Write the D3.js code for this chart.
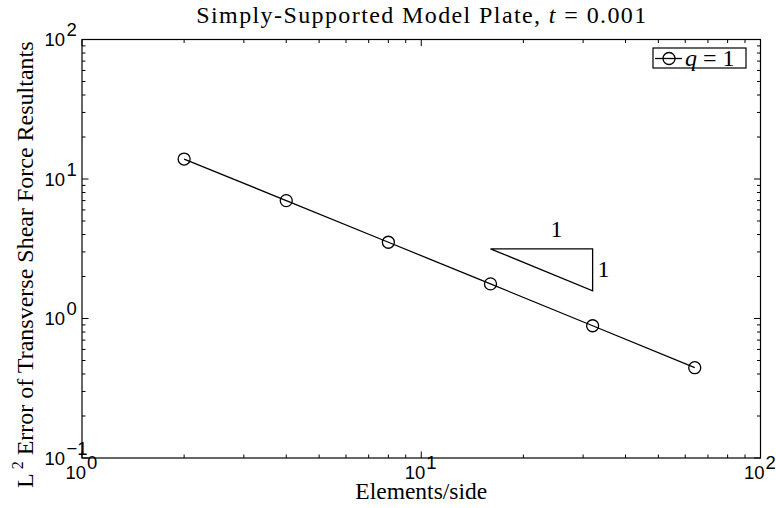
<!DOCTYPE html>
<html lang="en">
<head>
  <meta charset="UTF-8">
  <title>Simply-Supported Model Plate</title>
  <script src="https://d3js.org/d3.v7.min.js"></script>
  <style>
    body { margin: 0; background: #fff; }
    .serif { font-family: "Liberation Serif", "Times New Roman", serif; }
    .tick-label { font-family: "Liberation Sans", Arial, sans-serif; font-size: 18.5px; }
  </style>
</head>
<body>
  <div id="chart"></div>

  <script>
    // Data
    const elements = [2, 4, 8, 16, 32, 64];
    const errors = [13.9, 7.0, 3.52, 1.77, 0.887, 0.444];
    const xTicks = [1, 10, 100];
    const yTicks = [0.1, 1, 10, 100];
    const slopeTriangle = [[16, 3.16], [32, 3.16], [32, 1.58]];

    const W = 776, H = 508;
    const margin = { top: 39.5, right: 15.5, bottom: 50, left: 82 };
    const width = W - margin.left - margin.right;
    const height = H - margin.top - margin.bottom;

    const root = d3.select("#chart").append("svg")
      .attr("width", W).attr("height", H);
    const svg = root.append("g")
      .attr("transform", "translate(" + margin.left + "," + margin.top + ")");

    const x = d3.scaleLog().domain([1, 100]).range([0, width]);
    const y = d3.scaleLog().domain([0.1, 100]).range([height, 0]);

    // minor ticks (2..9 in each decade)
    const minorX = [], minorY = [];
    for (let d = 1; d < 100; d *= 10) for (let k = 2; k < 10; k++) minorX.push(d * k);
    for (let d = 0.1; d < 99; d *= 10) for (let k = 2; k < 10; k++) minorY.push(+(d * k).toPrecision(3));

    const ticks = svg.append("g").attr("stroke", "#000").attr("stroke-width", 1);
    minorX.forEach(v => {
      ticks.append("line").attr("x1", x(v)).attr("x2", x(v)).attr("y1", height).attr("y2", height - 3.5);
      ticks.append("line").attr("x1", x(v)).attr("x2", x(v)).attr("y1", 0).attr("y2", 3.5);
    });
    xTicks.forEach(v => {
      ticks.append("line").attr("x1", x(v)).attr("x2", x(v)).attr("y1", height).attr("y2", height - 6.5);
      ticks.append("line").attr("x1", x(v)).attr("x2", x(v)).attr("y1", 0).attr("y2", 6.5);
    });
    minorY.forEach(v => {
      ticks.append("line").attr("y1", y(v)).attr("y2", y(v)).attr("x1", 0).attr("x2", 3.5);
      ticks.append("line").attr("y1", y(v)).attr("y2", y(v)).attr("x1", width).attr("x2", width - 3.5);
    });
    yTicks.forEach(v => {
      ticks.append("line").attr("y1", y(v)).attr("y2", y(v)).attr("x1", 0).attr("x2", 6.5);
      ticks.append("line").attr("y1", y(v)).attr("y2", y(v)).attr("x1", width).attr("x2", width - 6.5);
    });

    // frame
    svg.append("rect")
      .attr("width", width).attr("height", height)
      .attr("fill", "none").attr("stroke", "#000").attr("stroke-width", 1.2);

    // tick labels as 10^n ("10" anchored, exponent trailing)
    const exp = v => Math.round(Math.log10(v));
    xTicks.forEach(v => {
      svg.append("text").attr("class", "tick-label")
        .attr("x", x(v) + 4).attr("y", height + 20.5).attr("text-anchor", "end").text("10");
      svg.append("text").attr("class", "tick-label").attr("font-size", 13)
        .attr("x", x(v) + 5).attr("y", height + 10.5).text(exp(v));
    });
    yTicks.forEach(v => {
      svg.append("text").attr("class", "tick-label")
        .attr("x", -17).attr("y", y(v) + 6.5).attr("text-anchor", "end").text("10");
      svg.append("text").attr("class", "tick-label").attr("font-size", 13)
        .attr("x", -15.5).attr("y", y(v) - 3.5).text(String(exp(v)).replace("-", "\u2212"));
    });

    // data line + circle markers
    const line = d3.line().x((d, i) => x(elements[i])).y(d => y(d));
    svg.append("path").datum(errors)
      .attr("d", line).attr("fill", "none").attr("stroke", "#000").attr("stroke-width", 1.3);
    svg.selectAll(".pt").data(errors).enter().append("circle")
      .attr("class", "pt")
      .attr("cx", (d, i) => x(elements[i])).attr("cy", d => y(d)).attr("r", 6)
      .attr("fill", "none").attr("stroke", "#000").attr("stroke-width", 1.3);

    // slope triangle
    svg.append("path")
      .attr("d", d3.line().x(d => x(d[0])).y(d => y(d[1]))(slopeTriangle) + "Z")
      .attr("fill", "none").attr("stroke", "#000").attr("stroke-width", 1.3);
    svg.append("text").attr("class", "serif")
      .attr("x", (x(slopeTriangle[0][0]) + x(slopeTriangle[1][0])) / 2 + 15)
      .attr("y", y(slopeTriangle[0][1]) - 12)
      .attr("text-anchor", "middle").attr("font-size", 24).text("1");
    svg.append("text").attr("class", "serif")
      .attr("x", x(slopeTriangle[1][0]) + 5)
      .attr("y", (y(slopeTriangle[1][1]) + y(slopeTriangle[2][1])) / 2 + 7)
      .attr("font-size", 24).text("1");

    // legend
    const lg = svg.append("g").attr("transform", "translate(571,8.5)");
    lg.append("rect").attr("width", 93).attr("height", 20)
      .attr("fill", "#fff").attr("stroke", "#000").attr("stroke-width", 1.2);
    lg.append("line").attr("x1", 2).attr("x2", 29).attr("y1", 10.5).attr("y2", 10.5)
      .attr("stroke", "#000").attr("stroke-width", 1.3);
    lg.append("circle").attr("cx", 16).attr("cy", 10.5).attr("r", 6)
      .attr("fill", "none").attr("stroke", "#000").attr("stroke-width", 1.3);
    const lt = lg.append("text").attr("class", "serif").attr("x", 32).attr("y", 17.5).attr("font-size", 24);
    lt.append("tspan").attr("font-style", "italic").text("q");
    lt.append("tspan").text(" = 1");

    // title
    const title = root.append("text").attr("class", "serif")
      .attr("x", margin.left + width / 2).attr("y", 23)
      .attr("text-anchor", "middle").attr("font-size", 24)
      .attr("textLength", 450).attr("lengthAdjust", "spacing");
    title.append("tspan").text("Simply-Supported Model Plate, ");
    title.append("tspan").attr("font-style", "italic").text("t");
    title.append("tspan").text(" = 0.001");

    // axis labels
    root.append("text").attr("class", "serif")
      .attr("x", margin.left + width / 2).attr("y", 499)
      .attr("text-anchor", "middle").attr("font-size", 23.5).text("Elements/side");

    const yl = root.append("text").attr("class", "serif")
      .attr("transform", "translate(33,488) rotate(-90)")
      .attr("text-anchor", "start").attr("font-size", 24);
    yl.append("tspan").text("L");
    yl.append("tspan").attr("dx", 4).attr("dy", -10).attr("font-size", 16).text("2");
    yl.append("tspan").attr("dy", 10).text(" Error of Transverse Shear Force Resultants");
  </script>
</body>
</html>
